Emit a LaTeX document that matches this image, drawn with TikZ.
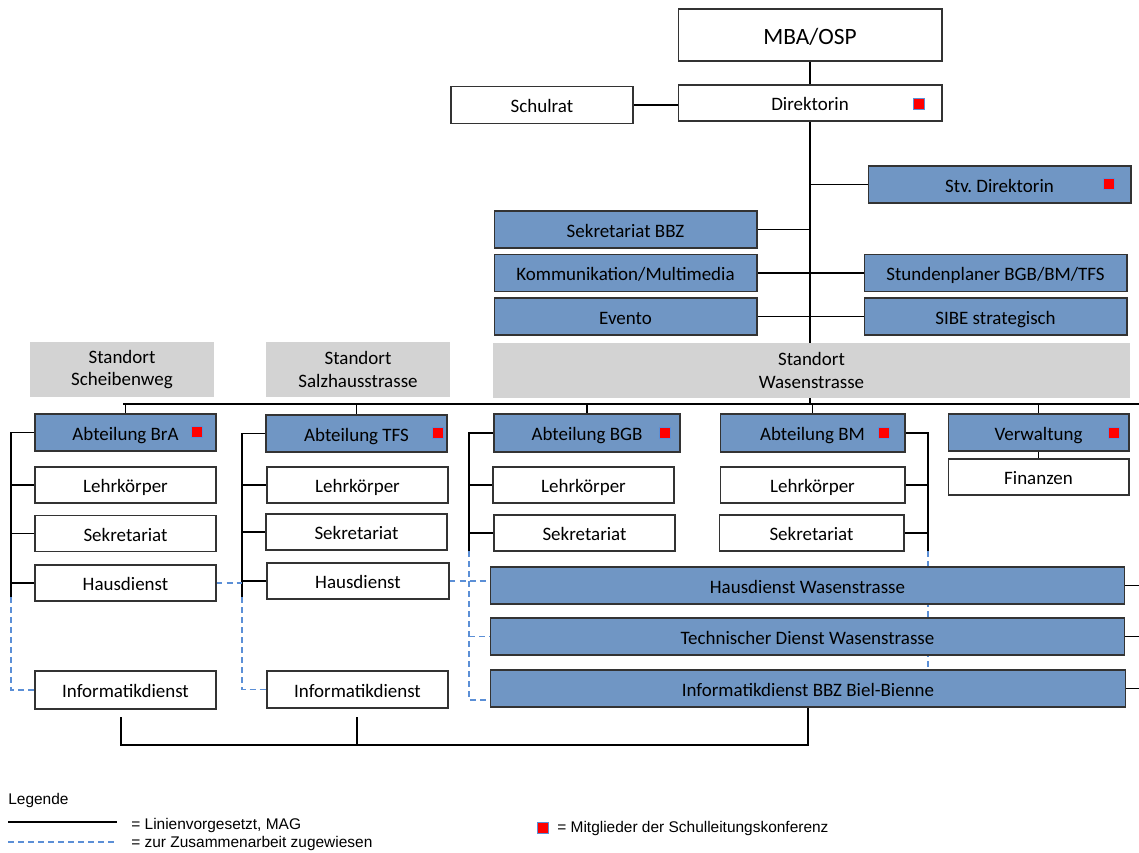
\documentclass[tikz,border=0pt]{standalone}
\usepackage{fontspec}
\setmainfont{Carlito}
\newfontfamily\legendfont{Liberation Sans}
\usetikzlibrary{calc,backgrounds}
\definecolor{boxblue}{RGB}{112,150,196}
\definecolor{sitegrey}{RGB}{211,211,211}
\definecolor{coopblue}{RGB}{91,143,214}

\begin{document}
\frenchspacing
\begin{tikzpicture}[x=0.02cm, y=-0.02cm, font=\fontsize{10.8}{13}\selectfont]
    \tikzset{box/.style={draw=black!80, line width=0.6pt, fill=white, minimum height=0.72cm, inner sep=0pt, align=center, text height=8.6pt, text depth=0pt},
             unit/.style={box, fill=boxblue, minimum height=0.74cm},
             site/.style={fill=sitegrey, minimum height=1.1cm, inner sep=0pt, align=center},
             member/.style={draw=coopblue, fill=red, minimum size=0.22cm, inner sep=0pt, line width=0.4pt},
             conn/.style={line width=0.9pt},
             coop/.style={coopblue, line width=0.8pt, dash pattern=on 3.4pt off 2.3pt},
             legtext/.style={anchor=west, inner sep=0pt, font=\legendfont\fontsize{8.8}{10}\selectfont}}
    \useasboundingbox (0,0) rectangle (1139,852);

    % leitung
    \node[box, minimum width=5.28cm, minimum height=1.04cm, text height=10.8pt, font=\fontsize{13.3}{16}\selectfont] (mba) at (810,35) {MBA/OSP};
    \node[box, minimum width=5.28cm] (dir) at (810,103) {Direktorin};
    \node[member] (sqDir) at (919,104) {};
    \node[box, minimum width=3.64cm, minimum height=0.74cm] (schulrat) at (542,105) {Schulrat};
    \node[unit, minimum width=5.26cm] (stv) at (999.5,184.5) {Stv. Direktorin};
    \node[member] (sqStv) at (1109,184) {};
    \node[unit, minimum width=5.26cm] (sekbbz) at (625.5,229.5) {Sekretariat BBZ};
    \node[unit, minimum width=5.26cm] (komm) at (625.5,273) {Kommunikation/Multimedia};
    \node[unit, minimum width=5.26cm] (evento) at (625.5,316.5) {Evento};
    \node[unit, minimum width=5.26cm] (stdplan) at (995.5,273) {Stundenplaner BGB/BM/TFS};
    \node[unit, minimum width=5.26cm] (sibe) at (995.5,316.5) {SIBE strategisch};

    % standorte
    \node[site, minimum width=3.68cm] (scheib) at (122,369.5) {Standort\\Scheibenweg};
    \node[site, minimum width=3.68cm] (salz) at (358,369.5) {Standort\\Salzhausstrasse};
    \node[site, minimum width=12.74cm] (wasen) at (811.5,370.5) {Standort\\Wasenstrasse};

    % abteilungen
    \node[unit, minimum width=3.62cm] (abtbra) at (125.5,432.5) {Abteilung BrA};
    \node[member] (sqBra) at (197,432) {};
    \node[unit, minimum width=3.62cm] (abttfs) at (356.5,433.5) {Abteilung TFS};
    \node[member] (sqTfs) at (438,433) {};
    \node[unit, minimum width=3.72cm, minimum height=0.76cm] (abtbgb) at (587,433) {Abteilung BGB};
    \node[member] (sqBgb) at (665,433) {};
    \node[unit, minimum width=3.7cm, minimum height=0.76cm] (abtbm) at (812.5,433) {Abteilung BM};
    \node[member] (sqBm) at (884,433) {};
    \node[unit, minimum width=3.62cm] (verw) at (1038.5,432.5) {Verwaltung};
    \node[member] (sqVerw) at (1114,433) {};
    \node[box, minimum width=3.62cm] (finanzen) at (1038.5,477) {Finanzen};

    % brA
    \node[box, minimum width=3.62cm] (lehrBra) at (125.5,485) {Lehrkörper};
    \node[box, minimum width=3.62cm] (sekBra) at (125.5,533.5) {Sekretariat};
    \node[box, minimum width=3.62cm] (hausBra) at (125.5,583) {Hausdienst};
    \node[box, minimum width=3.62cm, minimum height=0.76cm] (infBra) at (125.5,690) {Informatikdienst};
    % tfs
    \node[box, minimum width=3.62cm] (lehrTfs) at (357.5,485) {Lehrkörper};
    \node[box, minimum width=3.62cm] (sekTfs) at (356.5,532) {Sekretariat};
    \node[box, minimum width=3.64cm] (hausTfs) at (358,581) {Hausdienst};
    \node[box, minimum width=3.62cm, minimum height=0.74cm] (infTfs) at (357.5,689.5) {Informatikdienst};
    % bgb / bm
    \node[box, minimum width=3.62cm] (lehrBgb) at (583.5,485) {Lehrkörper};
    \node[box, minimum width=3.62cm] (sekBgb) at (584.5,533) {Sekretariat};
    \node[box, minimum width=3.7cm] (lehrBm) at (812.5,485) {Lehrkörper};
    \node[box, minimum width=3.7cm] (sekBm) at (811.5,533) {Sekretariat};
    % dienste wasenstrasse
    \node[unit, minimum width=12.7cm] (hausWas) at (807.5,585.5) {Hausdienst Wasenstrasse};
    \node[unit, minimum width=12.7cm] (techWas) at (807.5,636.5) {Technischer Dienst Wasenstrasse};
    \node[unit, minimum width=12.72cm] (infWas) at (808,688.5) {Informatikdienst BBZ Biel-Bienne};

    \coordinate (busL) at (123,404);
    \coordinate (busR) at (1139,404);
    \coordinate (edgeR) at (1139,0);
    \coordinate (braBot) at (11,597);
    \coordinate (tfsBot) at (242,597);
    \coordinate (bgbBot) at (469,551);
    \coordinate (bgbEnd) at (469,700);
    \coordinate (bmBot) at (928,551);
    \coordinate (brkBra) at (121,717);
    \coordinate (brkTfs) at (357,717);
    \coordinate (brkL) at (121,745);

    \begin{scope}[on background layer]
        \draw[conn] (mba) -- (dir);
        \draw[conn] (schulrat.east) -- (schulrat.east -| dir.west);
        \draw[conn] (dir.south) -- (dir.south |- busL);
        \draw[conn] (stv.west) -- (stv.west -| dir.south);
        \draw[conn] (sekbbz.east) -- (sekbbz.east -| dir.south);
        \draw[conn] (komm.east) -- (stdplan.west);
        \draw[conn] (evento.east) -- (sibe.west);
        \draw[conn] (busL) -- (busR);
        \foreach \n in {abtbra,abttfs,abtbgb,abtbm,verw}
            \draw[conn] (\n.north |- busL) -- (\n.north);
        \draw[conn] (verw) -- (finanzen);

        % linien in den abteilungen
        \draw[conn] (abtbra.west) -| (braBot);
        \foreach \n in {lehrBra,sekBra,hausBra}
            \draw[conn] (\n.west) -- (\n.west -| braBot);
        \draw[conn] (abttfs.west) -| (tfsBot);
        \foreach \n in {lehrTfs,sekTfs,hausTfs}
            \draw[conn] (\n.west) -- (\n.west -| tfsBot);
        \draw[conn] (abtbgb.west) -| (bgbBot);
        \foreach \n in {lehrBgb,sekBgb}
            \draw[conn] (\n.west) -- (\n.west -| bgbBot);
        \draw[conn] (abtbm.east) -| (bmBot);
        \foreach \n in {lehrBm,sekBm}
            \draw[conn] (\n.east) -- (\n.east -| bmBot);
        \foreach \n in {hausWas,techWas,infWas}
            \draw[conn] (\n.east) -- (\n.east -| edgeR);
        \draw[conn] (brkBra) -- (brkL) -| (infWas.south);
        \draw[conn] (brkTfs) -- (brkTfs |- brkL);

        % zusammenarbeit
        \draw[coop] (braBot) |- (infBra.west);
        \draw[coop] (hausBra.east) -- (hausBra.east -| tfsBot);
        \draw[coop] (tfsBot) |- (infTfs.west);
        \draw[coop] (hausTfs.east) -- (hausTfs.east -| hausWas.west);
        \draw[coop] (bgbBot) -- (bgbEnd) -- (bgbEnd -| infWas.west);
        \draw[coop] (bgbBot |- techWas.west) -- (techWas.west);
        \draw[coop] (bmBot) -- (bmBot |- infWas.north);
    \end{scope}

    % legende
    \node[legtext] (leg) at (8,800) {Legende};
    \coordinate (legA) at (8,822);
    \coordinate (legB) at (117,822);
    \coordinate (legC) at (8,842);
    \coordinate (legD) at (117,842);
    \draw[line width=0.7pt] (legA) -- (legB);
    \draw[coop, line width=0.6pt] (legC) -- (legD);
    \node[legtext] (legLine) at (131,825) {= Linienvorgesetzt, MAG};
    \node[legtext] (legCoop) at (131,843) {= zur Zusammenarbeit zugewiesen};
    \node[member] (legSq) at (542.5,827.5) {};
    \node[legtext] (legMember) at (557,828) {= Mitglieder der Schulleitungskonferenz};
\end{tikzpicture}
\end{document}
